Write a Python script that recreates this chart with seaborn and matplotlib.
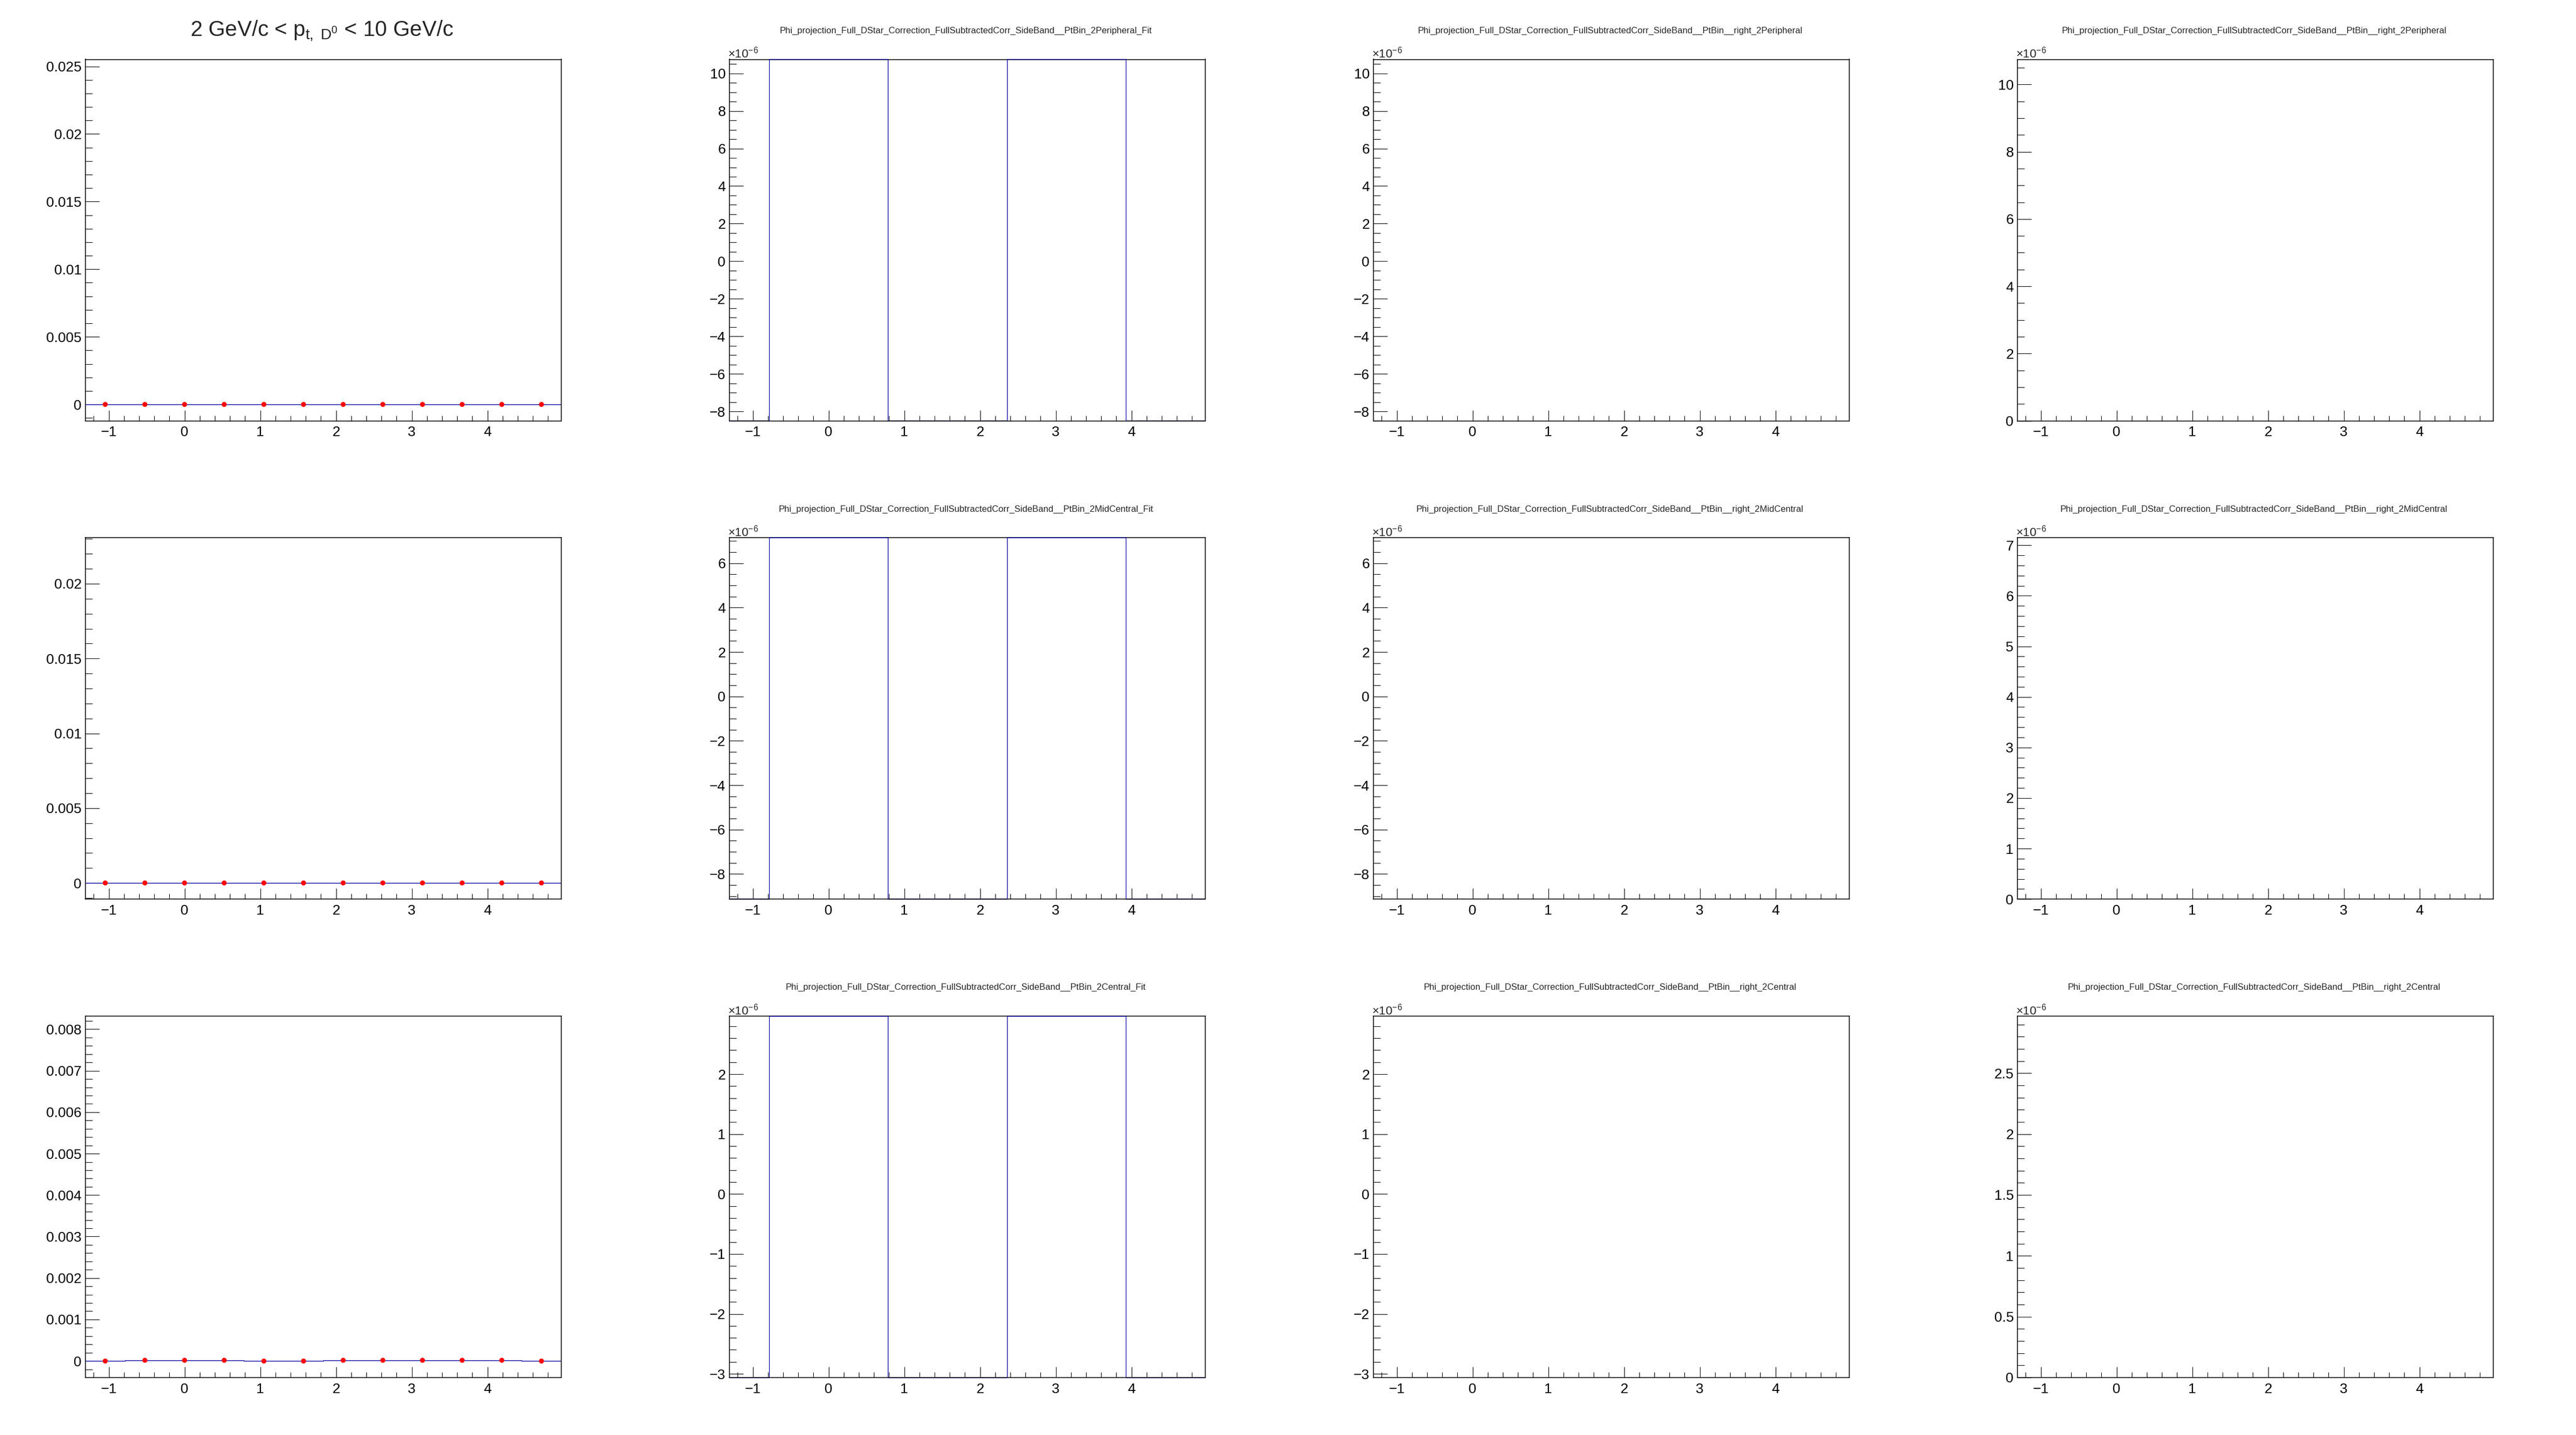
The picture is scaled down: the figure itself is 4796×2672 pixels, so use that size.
"""
Phi projections of the sideband-subtracted D* correlation, 2 < pt < 10 GeV/c,
drawn as a 3x4 grid of pads in the look of a ROOT canvas.
"""

import numpy as np
import matplotlib
matplotlib.use("Agg")
import matplotlib.pyplot as plt
from matplotlib.ticker import MultipleLocator, FuncFormatter
import seaborn as sns

# delta-phi binning, in units of pi/12
phi_edges = np.pi / 12 * np.array([-5, -3, -1, 1, 3, 5, 7, 9, 11, 13, 15, 17, 19])
phi_centers = 0.5 * (phi_edges[:-1] + phi_edges[1:])

# corrected projections (first column)
corr_peripheral = [0, 0, 0, 0, 0, 0, 0, 0, 0, 0, 0, 0]
corr_midcentral = [0, 0, 0, 0, 0, 0, 0, 0, 0, 0, 0, 0]
corr_central = [-3e-6, 1.6e-5, 1.6e-5, 1.6e-5, -3e-6, -3e-6,
                1.6e-5, 1.6e-5, 1.6e-5, 1.6e-5, 1.6e-5, -3e-6]
corr_values = [corr_peripheral, corr_midcentral, corr_central]

# fit in the second column, far off scale: only its edges show up
fit_edges = np.pi / 12 * np.array([-5, -3, 3, 9, 15, 19])
fit_values = [-1e-4, 1e-4, -1e-4, 1e-4, -1e-4]

centralities = ["Peripheral", "MidCentral", "Central"]
pt_title = r"2 GeV/c < $\mathrm{p_{t,\ D^{0}}}$ < 10 GeV/c"

# y ranges and (major, minor) tick steps
ylim_corr = [(-0.00121, 0.02552), (-0.00108, 0.02308), (-0.000398, 0.008319)]
ystep_corr = [(0.005, 0.001), (0.005, 0.001), (0.001, 0.0002)]
ylim_fit = [(-8.50e-6, 10.75e-6), (-9.13e-6, 7.15e-6), (-3.06e-6, 2.97e-6)]
ystep_fit = [(2e-6, 0.5e-6), (2e-6, 0.5e-6), (1e-6, 0.2e-6)]
ylim_right = [(0, 10.75e-6), (0, 7.15e-6), (0, 2.97e-6)]
ystep_right = [(2e-6, 0.5e-6), (1e-6, 0.2e-6), (0.5e-6, 0.1e-6)]

BLUE = "#0000a8"
W, H = 4796, 2672
PAD_W, PAD_H = W / 4, H / 3

sns.set_style("ticks")
plt.rcParams["font.family"] = ["Liberation Sans", "DejaVu Sans"]
plt.rcParams["mathtext.fontset"] = "custom"
plt.rcParams["mathtext.rm"] = "Liberation Sans"
plt.rcParams["mathtext.it"] = "Liberation Sans:italic"
plt.rcParams["axes.unicode_minus"] = True


def frame_rect(row, col):
    # frame of a pad, in figure fractions
    x0 = col * PAD_W + 159
    y_top = row * PAD_H + 110.5
    return [x0 / W, 1 - (y_top + 673) / H, 886 / W, 673 / H]


def steps(edges, values):
    xs = np.repeat(edges, 2)[1:-1]
    ys = np.repeat(values, 2)
    return xs, ys


def label_fmt(scale):
    def fmt(v, pos):
        txt = f"{round(v / scale, 6) + 0.0:g}"
        return txt.replace("-", "\u2212")
    return FuncFormatter(fmt)


def root_axes(ax, ylim, ystep, scale):
    ax.set_xlim(phi_edges[0], phi_edges[-1])
    ax.set_ylim(*ylim)
    ax.xaxis.set_major_locator(MultipleLocator(1))
    ax.xaxis.set_minor_locator(MultipleLocator(0.2))
    ax.yaxis.set_major_locator(MultipleLocator(ystep[0]))
    ax.yaxis.set_minor_locator(MultipleLocator(ystep[1]))
    ax.xaxis.set_major_formatter(label_fmt(1))
    ax.yaxis.set_major_formatter(label_fmt(scale))
    for s in ax.spines.values():
        s.set_color("black")
        s.set_linewidth(1.1)
        s.set_visible(True)
    ax.spines["bottom"].set_zorder(5)
    ax.tick_params(which="both", direction="in", top=False, right=False,
                   width=0.75, colors="black", labelsize=19)
    ax.tick_params(axis="y", which="major", length=18.7, pad=5)
    ax.tick_params(axis="y", which="minor", length=9.4)
    ax.tick_params(axis="x", which="major", length=14.6, pad=7)
    ax.tick_params(axis="x", which="minor", length=7.3)
    ax.set_xlabel("")
    ax.set_ylabel("")
    ax.grid(False)
    ax.set_facecolor("white")
    if scale != 1:
        ax.text(-0.003, 1.004, r"$\times10^{-6}$", transform=ax.transAxes,
                fontsize=16, ha="left", va="baseline")


fig = plt.figure(figsize=(W / 100, H / 100), dpi=100)
fig.patch.set_facecolor("white")

for row, cent in enumerate(centralities):
    pad_top = row * PAD_H

    # column 1: corrected projection with points
    ax = fig.add_axes(frame_rect(row, 0))
    xs, ys = steps(phi_edges, corr_values[row])
    sns.lineplot(x=xs, y=ys, ax=ax, sort=False, estimator=None,
                 color=BLUE, linewidth=1.0, legend=False)
    sns.scatterplot(x=phi_centers, y=corr_values[row], ax=ax, color="#ff0000",
                    s=45, edgecolor="none", linewidth=0, zorder=4, legend=False)
    root_axes(ax, ylim_corr[row], ystep_corr[row], 1)
    if row == 0:
        fig.text(0.5 * PAD_W / W, 1 - 68 / H, pt_title, fontsize=29,
                 ha="center", va="baseline")

    # column 2: fit
    ax = fig.add_axes(frame_rect(row, 1))
    xs, ys = steps(fit_edges, fit_values)
    ys = np.clip(ys, *ylim_fit[row])
    sns.lineplot(x=xs, y=ys, ax=ax, sort=False, estimator=None,
                 color=BLUE, linewidth=0.9, legend=False, zorder=3)
    ax.lines[-1].set_clip_on(False)
    root_axes(ax, ylim_fit[row], ystep_fit[row], 1e-6)
    fig.text(1.5 * PAD_W / W, 1 - (pad_top + 62) / H,
             f"Phi_projection_Full_DStar_Correction_FullSubtractedCorr_SideBand__PtBin_2{cent}_Fit",
             fontsize=12, ha="center", va="baseline")

    # columns 3 and 4: right sideband, empty
    for col, lims, stp in [(2, ylim_fit, ystep_fit), (3, ylim_right, ystep_right)]:
        ax = fig.add_axes(frame_rect(row, col))
        root_axes(ax, lims[row], stp[row], 1e-6)
        fig.text((col + 0.5) * PAD_W / W, 1 - (pad_top + 62) / H,
                 f"Phi_projection_Full_DStar_Correction_FullSubtractedCorr_SideBand__PtBin__right_2{cent}",
                 fontsize=12, ha="center", va="baseline")

fig.savefig("out.png", dpi=100, facecolor="white")
